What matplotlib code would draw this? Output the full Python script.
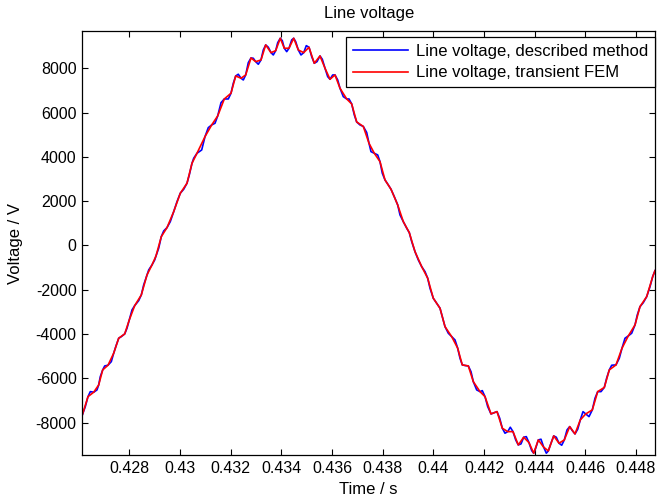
import matplotlib
matplotlib.use("Agg")
import matplotlib.pyplot as plt

plt.rcParams['font.family'] = ['Liberation Sans', 'DejaVu Sans']

# Line voltage from the described method (s, V)
time_s = [
    0.426133, 0.426263, 0.426370, 0.426461, 0.426595, 0.426725, 0.426792, 0.426855, 0.426950, 0.427029,
    0.427159, 0.427290, 0.427384, 0.427475, 0.427582, 0.427684, 0.427818, 0.427909, 0.428000, 0.428107,
    0.428213, 0.428371, 0.428474, 0.428568, 0.428699, 0.428766, 0.428896, 0.429003, 0.429054, 0.429160,
    0.429263, 0.429358, 0.429488, 0.429618, 0.429753, 0.429883, 0.430013, 0.430147, 0.430277, 0.430368,
    0.430475, 0.430542, 0.430672, 0.430858, 0.430988, 0.431118, 0.431252, 0.431383, 0.431489, 0.431620,
    0.431750, 0.431908, 0.432014, 0.432105, 0.432200, 0.432302, 0.432409, 0.432500, 0.432594, 0.432697,
    0.432804, 0.432894, 0.432989, 0.433092, 0.433198, 0.433289, 0.433384, 0.433487, 0.433593, 0.433684,
    0.433779, 0.433858, 0.433960, 0.434039, 0.434118, 0.434213, 0.434304, 0.434410, 0.434489, 0.434568,
    0.434671, 0.434777, 0.434884, 0.434986, 0.435093, 0.435200, 0.435302, 0.435409, 0.435527, 0.435618,
    0.435725, 0.435831, 0.435922, 0.436028, 0.436119, 0.436226, 0.436317, 0.436447, 0.436581, 0.436672,
    0.436778, 0.436881, 0.436975, 0.437106, 0.437236, 0.437370, 0.437461, 0.437540, 0.437670, 0.437805,
    0.437895, 0.437986, 0.438093, 0.438223, 0.438330, 0.438460, 0.438594, 0.438685, 0.438815, 0.438950,
    0.439052, 0.439147, 0.439277, 0.439407, 0.439541, 0.439672, 0.439778, 0.439869, 0.439999, 0.440133,
    0.440264, 0.440354, 0.440461, 0.440591, 0.440725, 0.440856, 0.440962, 0.441053, 0.441144, 0.441278,
    0.441381, 0.441487, 0.441578, 0.441712, 0.441843, 0.441933, 0.442040, 0.442147, 0.442277, 0.442407,
    0.442514, 0.442620, 0.442723, 0.442829, 0.442936, 0.443038, 0.443145, 0.443252, 0.443354, 0.443461,
    0.443567, 0.443670, 0.443776, 0.443883, 0.443962, 0.444041, 0.444144, 0.444250, 0.444357, 0.444460,
    0.444539, 0.444645, 0.444752, 0.444854, 0.444961, 0.445068, 0.445170, 0.445277, 0.445383, 0.445486,
    0.445592, 0.445699, 0.445801, 0.445908, 0.446015, 0.446145, 0.446275, 0.446382, 0.446489, 0.446619,
    0.446749, 0.446844, 0.446946, 0.447041, 0.447210, 0.447341, 0.447447, 0.447566, 0.447696, 0.447830,
    0.447961, 0.448051, 0.448158, 0.448288, 0.448422, 0.448553, 0.448659, 0.448750,
]
method_v = [
    -7698, -7278, -6827, -6601, -6628, -6524, -6298, -5924, -5621, -5441,
    -5409, -5246, -4867, -4538, -4190, -4118, -3996, -3738, -3364, -2912,
    -2718, -2492, -2235, -1783, -1332, -1106, -880, -655, -474, -126,
    397, 655, 804, 1075, 1526, 1978, 2357, 2537, 2808, 3183,
    3711, 3937, 4163, 4312, 4912, 5319, 5441, 5517, 5847, 6447,
    6614, 6614, 6872, 7323, 7653, 7730, 7549, 7472, 7698, 8253,
    8466, 8452, 8299, 8181, 8375, 8827, 9053, 8949, 8705, 8601,
    8795, 9156, 9355, 9247, 8904, 8750, 8904, 9278, 9355, 9202,
    8827, 8601, 8705, 9021, 8949, 8524, 8226, 8299, 8556, 8407,
    8001, 7621, 7504, 7698, 7698, 7472, 7097, 6718, 6614, 6614,
    6389, 5892, 5576, 5441, 5373, 5102, 4614, 4235, 4163, 4086,
    3784, 3260, 2957, 2732, 2537, 2203, 1829, 1377, 1075, 777,
    578, 172, -280, -655, -957, -1183, -1481, -1932, -2384, -2610,
    -2835, -3215, -3666, -3964, -4118, -4267, -4641, -5093, -5395, -5427,
    -5441, -5698, -6149, -6524, -6601, -6556, -6827, -7278, -7608, -7549,
    -7504, -7802, -8253, -8479, -8407, -8208, -8407, -8782, -9007, -8962,
    -8660, -8633, -8904, -9265, -9382, -9156, -8782, -8750, -9111, -9382,
    -9278, -8931, -8601, -8660, -8931, -9021, -8782, -8330, -8181, -8362,
    -8511, -8299, -7879, -7504, -7608, -7730, -7427, -6899, -6601, -6601,
    -6411, -5982, -5621, -5409, -5395, -5093, -4641, -4190, -4086, -3964,
    -3589, -3138, -2763, -2583, -2312, -1860, -1409, -1138,
]

# Line voltage from the transient FEM run (s, V)
fem_time_s = [
    0.426133, 0.426370, 0.426595, 0.426792, 0.426950, 0.427159, 0.427384, 0.427582, 0.427818, 0.428000,
    0.428213, 0.428474, 0.428699, 0.428896, 0.429054, 0.429263, 0.429488, 0.429753, 0.430013, 0.430277,
    0.430475, 0.430672, 0.430988, 0.431252, 0.431489, 0.431750, 0.432014, 0.432200, 0.432409, 0.432594,
    0.432804, 0.432989, 0.433198, 0.433384, 0.433593, 0.433779, 0.433960, 0.434118, 0.434304, 0.434489,
    0.434671, 0.434884, 0.435093, 0.435302, 0.435527, 0.435725, 0.435922, 0.436119, 0.436317, 0.436581,
    0.436778, 0.436975, 0.437236, 0.437461, 0.437670, 0.437895, 0.438093, 0.438330, 0.438594, 0.438815,
    0.439052, 0.439277, 0.439541, 0.439778, 0.439999, 0.440264, 0.440461, 0.440725, 0.440962, 0.441144,
    0.441381, 0.441578, 0.441843, 0.442040, 0.442277, 0.442514, 0.442723, 0.442936, 0.443145, 0.443354,
    0.443567, 0.443776, 0.443962, 0.444144, 0.444357, 0.444539, 0.444752, 0.444961, 0.445170, 0.445383,
    0.445592, 0.445801, 0.446015, 0.446275, 0.446489, 0.446749, 0.446946, 0.447210, 0.447447, 0.447696,
    0.447961, 0.448158, 0.448422, 0.448659, 0.448750,
]
fem_v = [
    -7698, -6827, -6628, -6298, -5621, -5409, -4867, -4190, -3996, -3364,
    -2718, -2235, -1332, -880, -474, 397, 804, 1526, 2357, 2808,
    3711, 4163, 4912, 5441, 5847, 6614, 6872, 7653, 7549, 7698,
    8466, 8299, 8375, 9053, 8705, 8795, 9355, 8904, 8904, 9355,
    8827, 8705, 8949, 8226, 8556, 8001, 7504, 7698, 7097, 6614,
    6389, 5576, 5373, 4614, 4163, 3784, 2957, 2537, 1829, 1075,
    578, -280, -957, -1481, -2384, -2835, -3666, -4118, -4641, -5395,
    -5441, -6149, -6601, -6827, -7608, -7504, -8253, -8407, -8407, -9007,
    -8660, -8904, -9382, -8782, -9111, -9278, -8601, -8931, -8782, -8181,
    -8511, -7879, -7608, -7427, -6601, -6411, -5621, -5395, -4641, -4086,
    -3589, -2763, -2312, -1409, -1138,
]

x_ticks = [0.428, 0.430, 0.432, 0.434, 0.436, 0.438, 0.440, 0.442, 0.444, 0.446, 0.448]
x_tick_labels = ['0.428', '0.43', '0.432', '0.434', '0.436', '0.438',
                 '0.44', '0.442', '0.444', '0.446', '0.448']
y_ticks = [-8000, -6000, -4000, -2000, 0, 2000, 4000, 6000, 8000]
y_tick_labels = ['-8000', '-6000', '-4000', '-2000', '0', '2000', '4000', '6000', '8000']

W, H = 658, 498
fig = plt.figure(figsize=(W / 100, H / 100), dpi=100)
left, right, top, bottom = 82.3, 655.0, 31.5, 454.5
ax = fig.add_axes([left / W, 1 - bottom / H, (right - left) / W, (bottom - top) / H])

ax.plot(time_s, method_v, color='#0000ff', lw=1.2, label='Line voltage, described method')
ax.plot(fem_time_s, fem_v, color='#ff0000', lw=1.2, label='Line voltage, transient FEM')

ax.set_xlim(0.426145, 0.44875)
ax.set_ylim(-9440, 9660)

fs = 12
tfs = 11.5
ax.set_xticks(x_ticks)
ax.set_xticklabels(x_tick_labels, fontsize=tfs)
ax.set_yticks(y_ticks)
ax.set_yticklabels(y_tick_labels, fontsize=tfs)
ax.tick_params(direction='in', length=4, width=0.8, top=True, right=True, colors='black')
ax.tick_params(axis='x', pad=5)
ax.tick_params(axis='y', pad=4)
for s in ax.spines.values():
    s.set_linewidth(0.9)
    s.set_color('black')

ax.set_title('Line voltage', fontsize=fs, pad=10)
ax.set_xlabel('Time / s', fontsize=fs, labelpad=4)
ax.set_ylabel('Voltage / V', fontsize=fs, labelpad=9)

leg = ax.legend(loc='upper right', bbox_to_anchor=(1.0, 1 - 5.2 / (bottom - top)),
                borderaxespad=0, fancybox=False, framealpha=1, edgecolor='black',
                fontsize=fs, handlelength=3.3, handletextpad=0.45, labelspacing=0.4,
                borderpad=0.42)
leg.get_frame().set_linewidth(0.9)

fig.savefig('out.png', dpi=100)
